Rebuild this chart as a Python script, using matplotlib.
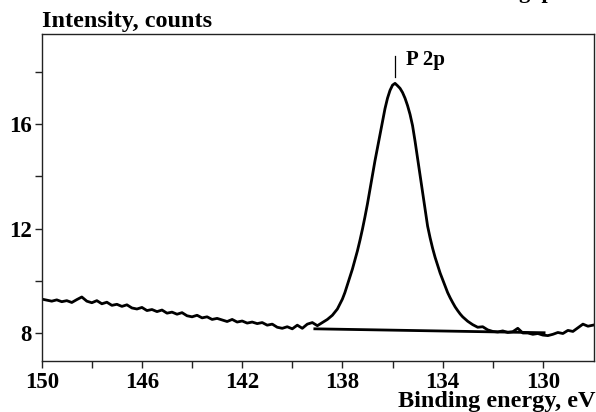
import matplotlib
matplotlib.use("Agg")
import matplotlib.pyplot as plt
from matplotlib.ticker import FixedLocator

plt.rcParams['font.family'] = ['Liberation Serif', 'DejaVu Serif']
plt.rcParams['font.weight'] = 'bold'

# spectrum: binding energy (eV) and intensity (counts)
energy = [150.0, 149.8, 149.6, 149.4, 149.2, 149.0, 148.8, 148.6, 148.4, 148.2,
          148.0, 147.8, 147.6, 147.4, 147.2, 147.0, 146.8, 146.6, 146.4, 146.2,
          146.0, 145.8, 145.6, 145.4, 145.2, 145.0, 144.8, 144.6, 144.4, 144.2,
          144.0, 143.8, 143.6, 143.4, 143.2, 143.0, 142.8, 142.6, 142.4, 142.2,
          142.0, 141.8, 141.6, 141.4, 141.2, 141.0, 140.8, 140.6, 140.4, 140.2,
          140.0, 139.8, 139.6, 139.4, 139.2, 139.0, 138.8, 138.6, 138.4, 138.2,
          138.0, 137.9, 137.8, 137.7, 137.6, 137.5, 137.4, 137.3, 137.2, 137.1,
          137.0, 136.9, 136.8, 136.7, 136.6, 136.5, 136.4, 136.3, 136.2, 136.1,
          136.0, 135.9, 135.8, 135.7, 135.6, 135.5, 135.4, 135.3, 135.2, 135.1,
          135.0, 134.9, 134.8, 134.7, 134.6, 134.5, 134.4, 134.3, 134.2, 134.1,
          134.0, 133.9, 133.8, 133.7, 133.6, 133.5, 133.4, 133.3, 133.2, 133.0,
          132.8, 132.6, 132.4, 132.2, 132.0, 131.8, 131.6, 131.4, 131.2, 131.0,
          130.8, 130.6, 130.4, 130.2, 130.0, 129.8, 129.6, 129.4, 129.2, 129.0,
          128.8, 128.6, 128.4, 128.2, 128.0]
counts = [9.30, 9.26, 9.22, 9.27, 9.20, 9.24, 9.17, 9.28, 9.38, 9.22,
          9.16, 9.24, 9.12, 9.18, 9.06, 9.10, 9.02, 9.08, 8.96, 8.92,
          8.98, 8.86, 8.90, 8.82, 8.88, 8.76, 8.80, 8.72, 8.78, 8.66,
          8.62, 8.68, 8.58, 8.62, 8.52, 8.56, 8.50, 8.44, 8.52, 8.42,
          8.46, 8.38, 8.42, 8.36, 8.40, 8.30, 8.34, 8.22, 8.18, 8.24,
          8.16, 8.30, 8.18, 8.34, 8.40, 8.28, 8.40, 8.52, 8.68, 8.92,
          9.30, 9.55, 9.85, 10.15, 10.45, 10.8, 11.15, 11.55, 11.98, 12.45,
          12.95, 13.5, 14.05, 14.6, 15.1, 15.6, 16.1, 16.6, 17.0, 17.3,
          17.5, 17.57, 17.48, 17.38, 17.22, 17.0, 16.72, 16.38, 15.95, 15.35,
          14.7, 14.05, 13.4, 12.75, 12.1, 11.65, 11.25, 10.9, 10.6, 10.3,
          10.05, 9.8, 9.55, 9.35, 9.17, 9.0, 8.86, 8.73, 8.62, 8.45,
          8.32, 8.22, 8.24, 8.12, 8.06, 8.04, 8.08, 8.02, 8.05, 8.18,
          8.0, 8.0, 7.95, 7.98, 7.92, 7.9, 7.95, 8.02, 7.98, 8.1,
          8.06, 8.2, 8.34, 8.26, 8.3]

# linear background under the peak
bg_energy = [139.1, 129.95]
bg_counts = [8.16, 8.01]

peak_pos = 135.9
peak_label = "P 2p"

x_major = [150, 146, 142, 138, 134, 130]
x_minor = [148, 144, 140, 136, 132]
y_major = [8, 12, 16]
y_minor = [10, 14, 18]

fig = plt.figure(figsize=(5.96, 4.12), dpi=100)
ax = fig.add_axes([0.070, 0.124, 0.927, 0.794])

ax.plot(energy, counts, color='black', lw=2.0)
ax.plot(bg_energy, bg_counts, color='black', lw=2.0)
ax.plot([peak_pos, peak_pos], [17.82, 18.63], color='black', lw=0.9)
ax.text(135.47, 18.28, peak_label, fontsize=15, fontweight='bold', va='baseline')

ax.set_xlim(150, 127.95)
ax.set_ylim(6.93, 19.47)
ax.xaxis.set_major_locator(FixedLocator(x_major))
ax.xaxis.set_minor_locator(FixedLocator(x_minor))
ax.yaxis.set_major_locator(FixedLocator(y_major))
ax.yaxis.set_minor_locator(FixedLocator(y_minor))
ax.tick_params(which='both', direction='out', length=5, width=1, labelsize=16.5, color='#222222')
ax.tick_params(axis='x', pad=3)
ax.tick_params(axis='y', pad=2)
for s in ax.spines.values():
    s.set_linewidth(1.0)
    s.set_color('#222222')

fig.text(0.0705, 0.934, "Intensity, counts", fontsize=17.5, fontweight='bold', va='baseline')
fig.text(0.999, 0.011, "Binding energy, eV", fontsize=17.5, fontweight='bold', ha='right', va='baseline')
fig.text(0.87, 1.006, "g  p", fontsize=16, fontweight='bold', va='baseline')

fig.savefig("out.png", dpi=100)
